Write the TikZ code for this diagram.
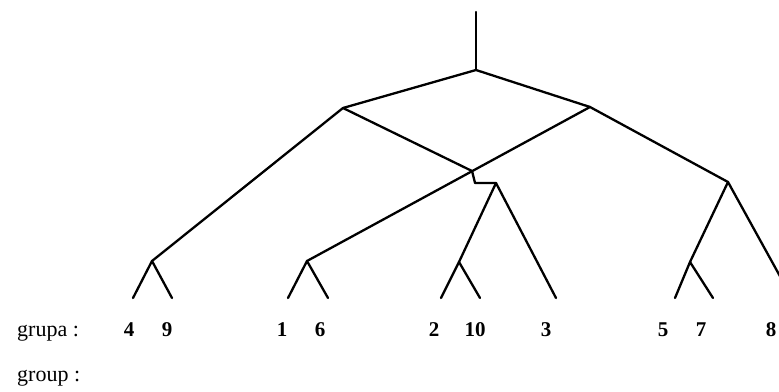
\documentclass[tikz,border=0pt]{standalone}
\usepackage{fontspec}
\setmainfont{Liberation Serif}
\begin{document}
\begin{tikzpicture}[x=1pt,y=-1pt,
  branch/.style={line width=2.3pt, line cap=round, line join=round},
  num/.style={font=\fontsize{21}{21}\selectfont\bfseries, anchor=base, inner sep=0pt},
  word/.style={font=\fontsize{22}{22}\selectfont, anchor=base west, inner sep=0pt}]
\useasboundingbox (0,0) rectangle (779,391);
\begin{scope}
\clip (0,0) rectangle (779,391);
% branch points
\coordinate (top) at (476,12);
\coordinate (r) at (476,70);
\coordinate (A) at (343,108);
\coordinate (B) at (590,107);
\coordinate (k1) at (472,171);
\coordinate (k2) at (475,183);
\coordinate (n2103) at (496,183);
\coordinate (n49) at (152,261);
\coordinate (n16) at (307,261);
\coordinate (n578) at (728,182);
\coordinate (n210) at (459,262);
\coordinate (n57) at (690,262);
% leaves
\coordinate (l4) at (133,298);
\coordinate (l9) at (172,298);
\coordinate (l1) at (288,298);
\coordinate (l6) at (328,298);
\coordinate (l2) at (441,298);
\coordinate (l10) at (480,298);
\coordinate (l3) at (556,298);
\coordinate (l5) at (675,298);
\coordinate (l7) at (713,298);
\coordinate (l8) at (792,298);
% tree
\draw[branch] (top) -- (r);
\draw[branch] (A) -- (r) -- (B);
\draw[branch] (n49) -- (A) -- (k1) -- (k2) -- (n2103);
\draw[branch] (n16) -- (B) -- (n578);
\draw[branch] (l4) -- (n49) -- (l9);
\draw[branch] (l1) -- (n16) -- (l6);
\draw[branch] (n210) -- (n2103) -- (l3);
\draw[branch] (l2) -- (n210) -- (l10);
\draw[branch] (n57) -- (n578) -- (l8);
\draw[branch] (l5) -- (n57) -- (l7);
\end{scope}
% labels
\node[word] (grupa) at (17,336) {grupa :};
\node[word] (group) at (17,381) {group :};
\node[num] (t4) at (129,336) {4};
\node[num] (t9) at (167,336) {9};
\node[num] (t1) at (282,336) {1};
\node[num] (t6) at (320,336) {6};
\node[num] (t2) at (434,336) {2};
\node[num] (t10) at (475,336) {10};
\node[num] (t3) at (546,336) {3};
\node[num] (t5) at (663,336) {5};
\node[num] (t7) at (701,336) {7};
\node[num] (t8) at (771,336) {8};
\end{tikzpicture}
\end{document}
